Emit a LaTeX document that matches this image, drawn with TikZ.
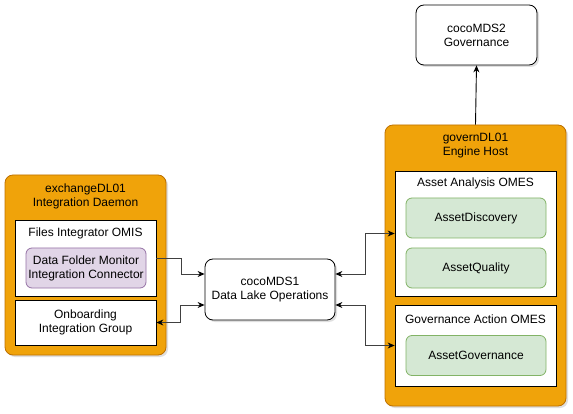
\documentclass[tikz,border=0pt]{standalone}
\usepackage{fontspec}
\setmainfont{Liberation Sans}
\usetikzlibrary{arrows.meta,shadows}
\definecolor{orfill}{HTML}{F0A30A}
\definecolor{ordraw}{HTML}{BD7000}
\definecolor{pufill}{HTML}{E1D5E7}
\definecolor{pudraw}{HTML}{9673A6}
\definecolor{grfill}{HTML}{D5E8D4}
\definecolor{grdraw}{HTML}{82B366}
\tikzset{
  base/.style={inner sep=0pt, align=center, font=\fontsize{12}{14}\selectfont},
  hostbox/.style={base, draw=ordraw, fill=orfill, rounded corners=8pt, line width=0.8pt,
    drop shadow={opacity=0.25, shadow xshift=2pt, shadow yshift=-2pt}},
  omsbox/.style={base, draw=black, fill=white, line width=0.8pt},
  purbox/.style={base, draw=pudraw, fill=pufill, rounded corners=6pt, line width=0.8pt},
  grnbox/.style={base, draw=grdraw, fill=grfill, rounded corners=6pt, line width=0.8pt},
  srvbox/.style={base, draw=black, fill=white, rounded corners=8pt, line width=0.8pt,
    drop shadow={opacity=0.25, shadow xshift=2pt, shadow yshift=-2pt}},
  title/.style={base},
  conn/.style={line width=0.9pt, draw=black!75, arrows={-Stealth[length=7pt,width=6pt,black]}},
  bconn/.style={line width=0.9pt, draw=black!75, arrows={Stealth[length=7pt,width=6pt,black]-Stealth[length=7pt,width=6pt,black]}},
}
\begin{document}
\begin{tikzpicture}[x=1pt,y=-1pt]
\useasboundingbox (0,0) rectangle (573,414);
% left host
\node[hostbox, minimum width=161pt, minimum height=180pt] (lhost) at (85.5,265) {};
\node[title] (ltitle) at (85.5,196) {exchangeDL01\\Integration Daemon};
\node[omsbox, minimum width=141pt, minimum height=76pt] (fio) at (85.5,258) {};
\node[title] (fiot) at (85.5,233) {Files Integrator OMIS};
\node[purbox, minimum width=120pt, minimum height=40pt] (dfm) at (86,268) {Data Folder Monitor\\Integration Connector};
\node[omsbox, minimum width=141pt, minimum height=45pt] (onb) at (85.5,322.5) {Onboarding\\Integration Group};
% middle
\node[srvbox, minimum width=130pt, minimum height=61pt] (mds1) at (270,289.5) {cocoMDS1\\Data Lake Operations};
% right host
\node[hostbox, minimum width=181pt, minimum height=281pt] (rhost) at (475.5,265.5) {};
\node[title] (rtitle) at (475.5,145.5) {governDL01\\Engine Host};
\node[omsbox, minimum width=161pt, minimum height=125pt] (aa) at (475.5,233.5) {};
\node[title] (aat) at (475.5,183) {Asset Analysis OMES};
\node[grnbox, minimum width=140pt, minimum height=40pt] (ad) at (476,218) {AssetDiscovery};
\node[grnbox, minimum width=140pt, minimum height=40pt] (aq) at (476,268) {AssetQuality};
\node[omsbox, minimum width=161pt, minimum height=81pt] (ga) at (475.5,345.5) {};
\node[title] (gat) at (475.5,319) {Governance Action OMES};
\node[grnbox, minimum width=140pt, minimum height=40pt] (ag) at (476,355.5) {AssetGovernance};
% top
\node[srvbox, minimum width=121pt, minimum height=60pt] (mds2) at (476.5,35) {cocoMDS2\\Governance};
% connectors
\draw[conn] (fio.east) -- ++(25,0) |- ([yshift=15.5pt]mds1.west);
\draw[bconn] ([yshift=-15.5pt]mds1.west) -- ++(-24,0) |- (onb.east);
\draw[bconn] ([yshift=15.5pt]mds1.east) -- ++(30,0) |- (aa.west);
\draw[bconn] ([yshift=-15.5pt]mds1.east) -- ++(30,0) |- (ga.west);
\draw[conn, draw=black] (rhost.north) -- (mds2.south);
\end{tikzpicture}
\end{document}
